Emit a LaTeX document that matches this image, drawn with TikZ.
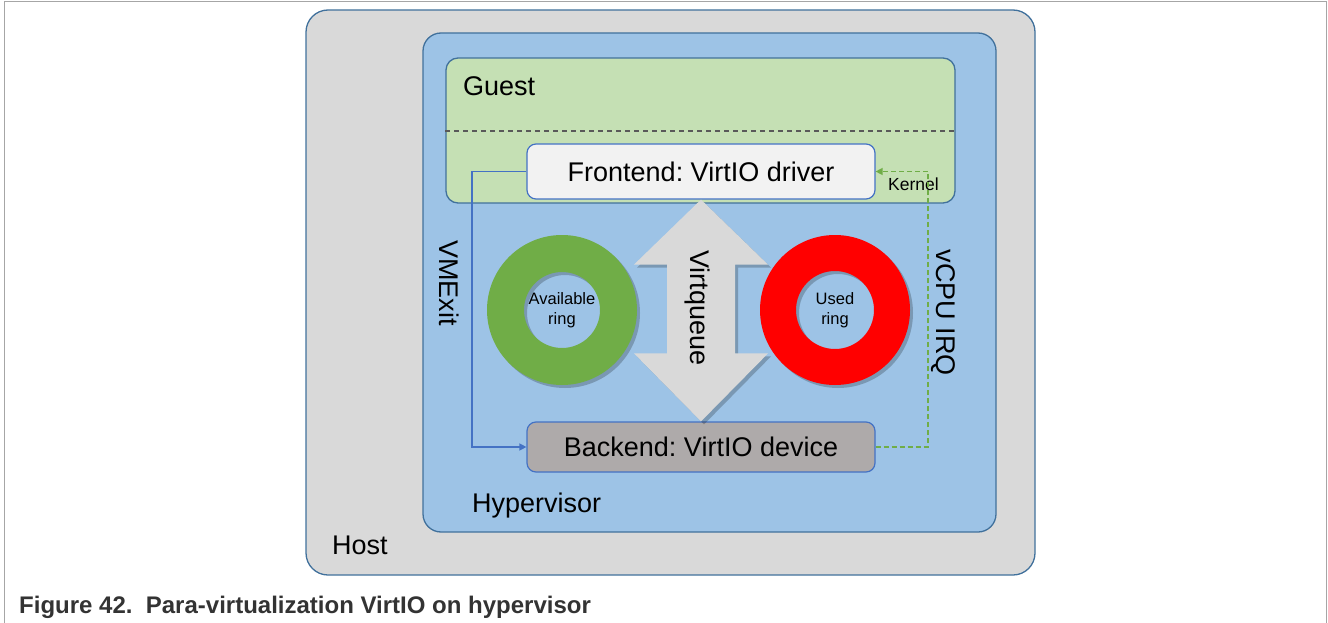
\documentclass[tikz,border=0pt]{standalone}
\usepackage{fontspec}
\setmainfont{Liberation Sans}
\usetikzlibrary{arrows.meta,calc}
\frenchspacing
\definecolor{hostgray}{HTML}{D9D9D9}
\definecolor{hyperblue}{HTML}{9DC3E6}
\definecolor{guestgreen}{HTML}{C5E0B4}
\definecolor{edgeblue}{HTML}{41719C}
\definecolor{linkblue}{HTML}{4472C4}
\definecolor{ringgreen}{HTML}{70AD47}
\definecolor{ringred}{HTML}{FF0000}
\definecolor{frontfill}{HTML}{F2F2F2}
\definecolor{backfill}{HTML}{AEAAAA}
\definecolor{captiongray}{HTML}{333333}
\definecolor{framegray}{HTML}{A6A6A6}

\begin{document}
\begin{tikzpicture}[
    x=1pt, y=-1pt,
    zone/.style={draw=edgeblue, line width=1.3pt, rounded corners=#1, inner sep=0pt},
    part/.style={draw=linkblue, line width=1.2pt, rounded corners=9pt, minimum width=348pt, font=\fontsize{27}{32}\selectfont},
    lbl/.style={inner sep=0pt, font=\fontsize{27}{32}\selectfont},
    ringtxt/.style={inner sep=0pt, align=center, font=\fontsize{16.5}{20}\selectfont},
    exitline/.style={draw=linkblue, line width=1.3pt, -{Triangle[length=7pt,width=7pt]}},
    irqline/.style={draw=ringgreen, line width=1.4pt, dash pattern=on 5pt off 3pt, -{Triangle[length=7pt,width=7pt]}},
    softshadow/.style={fill=black, opacity=0.22}
]
\useasboundingbox (0,0) rectangle (1328,623);
\draw[framegray, line width=1pt] (4,623) -- (4,2) -- (1326,2) -- (1326,623);

\node[zone=22pt, fill=hostgray, minimum width=729pt, minimum height=565pt] (host) at (670.5,292.5) {};
\node[zone=18pt, fill=hyperblue, minimum width=573pt, minimum height=499pt] (hyper) at (709.5,282.5) {};
\node[zone=12pt, fill=guestgreen, minimum width=509pt, minimum height=145pt] (guest) at (700.5,130.5) {};
\coordinate (kline) at (0,131);
\draw[black!65, line width=1.2pt, dash pattern=on 5pt off 4pt] (guest.west |- kline) -- (guest.east |- kline);

\node[part, fill=frontfill, minimum height=55pt] (front) at (701,171.5) {Frontend: VirtIO driver};
\node[part, fill=backfill, minimum height=50pt] (back) at (701,447) {Backend: VirtIO device};

\node[ringtxt] (avail) at (562,310) {Available\\ring};
\node[ringtxt] (used) at (835,310) {Used\\ring};
\coordinate (qtop) at (front.south);
\coordinate (qbot) at (back.north);

\begin{scope}[transform canvas={shift={(3,3)}}]
  \fill[softshadow, even odd rule] (avail.center) circle (75) (avail.center) circle (38);
  \fill[softshadow, even odd rule] (used.center) circle (75) (used.center) circle (39);
  \fill[softshadow] (qtop) -- ++(67,65) -- ++(-33,0) -- ($(qbot)+(34,-68)$) -- ++(33,0) -- (qbot)
    -- ++(-67,-68) -- ++(33,0) -- ($(qtop)+(-34,65)$) -- ++(-33,0) -- cycle;
\end{scope}
\fill[ringgreen, even odd rule] (avail.center) circle (75) (avail.center) circle (38);
\fill[ringred, even odd rule] (used.center) circle (75) (used.center) circle (39);
\fill[hostgray] (qtop) -- ++(67,65) -- ++(-33,0) -- ($(qbot)+(34,-68)$) -- ++(33,0) -- (qbot)
  -- ++(-67,-68) -- ++(33,0) -- ($(qtop)+(-34,65)$) -- ++(-33,0) -- cycle;

\node[lbl, rotate=-90] (vq) at (697,308) {Virtqueue};
\node[lbl, rotate=-90] (vmexit) at (449,283) {VMExit};
\node[lbl, rotate=-90] (vcpu) at (943,313) {vCPU IRQ};
\node[lbl, anchor=base west] (guestlbl) at (463,96) {Guest};
\node[lbl, anchor=base west] (hyperlbl) at (472,512) {Hypervisor};
\node[lbl, anchor=base west] (hostlbl) at (332,554) {Host};
\node[inner sep=0pt, anchor=base west, font=\fontsize{17.5}{20}\selectfont] (kernel) at (888,190) {Kernel};

\coordinate (exitx) at (472,0);
\coordinate (irqx) at (928,0);
\draw[exitline] (front.west) -- (front.west -| exitx) -- (back.west -| exitx) -- (back.west);
\draw[irqline] (back.east) -- (back.east -| irqx) -- (front.east -| irqx) -- (front.east);

\node[inner sep=0pt, anchor=base west, text=captiongray, font=\bfseries\fontsize{24}{28}\selectfont] (caption) at (19,613) {Figure 42.\ \ Para-virtualization VirtIO on hypervisor};
\end{tikzpicture}
\end{document}
